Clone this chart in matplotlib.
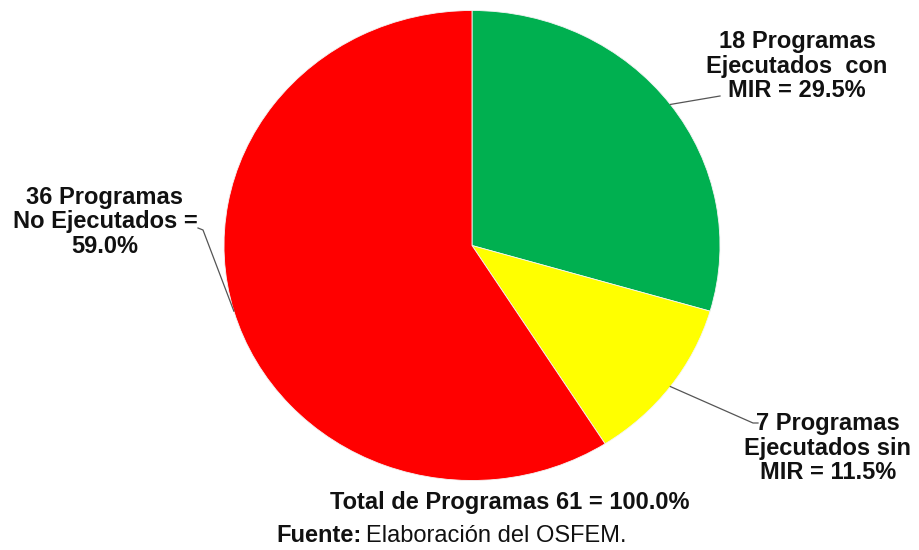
import numpy as np
import matplotlib
matplotlib.use("Agg")
import matplotlib.pyplot as plt
from matplotlib.lines import Line2D

# Data
categories = ["Ejecutados con MIR", "Ejecutados sin MIR", "No Ejecutados"]
programas = [18, 7, 36]
porcentajes = [29.5, 11.5, 59.0]
total_programas = 61
colors = ["#00B050", "#FFFF00", "#FF0000"]

label_texts = [
    "18 Programas\nEjecutados  con\nMIR = 29.5%",
    "7 Programas\nEjecutados sin\nMIR = 11.5%",
    "36 Programas\nNo Ejecutados =\n59.0%",
]

W, H = 919, 550
fig = plt.figure(figsize=(W / 100, H / 100), dpi=100)
ax = fig.add_axes([0, 0, 1, 1])

# geometry (pixels); slight vertical squash of the pie
cx_px, cy_px = 472, 245.5
rx, ry = 248, 235
k = rx / ry

def to_data(xp, yp):
    return xp, (H - yp) * k

cx, cy = to_data(cx_px, cy_px)
wedges, _ = ax.pie(programas, colors=colors, startangle=90, counterclock=False,
                   center=(cx, cy), radius=rx,
                   wedgeprops=dict(edgecolor="#f4f4f4", linewidth=0.6))
ax.set_xlim(0, W)
ax.set_ylim(0, H * k)
ax.set_aspect("auto")
ax.axis("off")

font = ["Liberation Sans", "DejaVu Sans"]
fs = 17

# label positions (pixels, center of text block) and leader line end points
label_pos = [(797, 66), (828, 448), (105, 222)]
leader_end = [[(720, 96)], [(753, 423), (758, 423)], [(203, 230), (198, 228)]]

for w, txt, (lx, ly), ends in zip(wedges, label_texts, label_pos, leader_end):
    ang = np.deg2rad((w.theta1 + w.theta2) / 2)
    px = cx + rx * np.cos(ang)
    py = cy + rx * np.sin(ang)
    xs = [px] + [to_data(*e)[0] for e in ends]
    ys = [py] + [to_data(*e)[1] for e in ends]
    ax.add_line(Line2D(xs, ys, color="#555555", lw=0.9))
    fig.text(lx / W, 1 - ly / H, txt, ha="center", va="center",
             fontsize=fs, fontweight="bold", family=font, linespacing=1.08,
             color="#111111")

fig.text(510 / W, 1 - 502 / H, f"Total de Programas {total_programas} = 100.0%",
         ha="center", va="center", fontsize=fs, fontweight="bold", family=font,
         color="#111111")

t1 = fig.text(276 / W, 1 - 536 / H, "Fuente:", ha="left", va="center",
              fontsize=fs, fontweight="bold", family=font, color="#111111")
fig.canvas.draw()
bb = t1.get_window_extent()
fig.text((bb.x1 + 5) / W, 1 - 536 / H, "Elaboración del OSFEM.", ha="left",
         va="center", fontsize=fs, family=font, color="#111111")

fig.savefig("out.png", dpi=100)
